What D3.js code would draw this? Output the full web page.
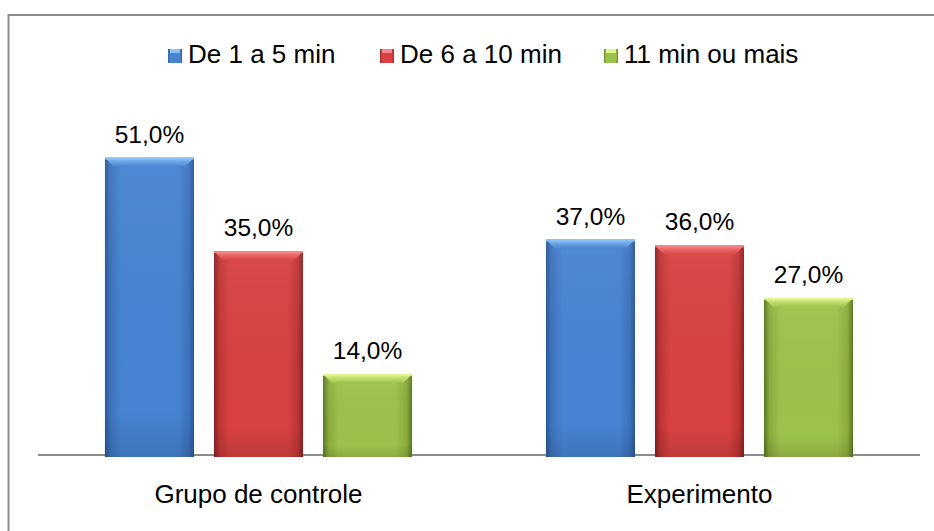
<!DOCTYPE html>
<html><head><meta charset="utf-8">
<script src="https://cdn.jsdelivr.net/npm/d3@7/dist/d3.min.js"></script>
<style>body{margin:0;background:#fff}svg{display:block}text{font-family:"Liberation Sans",Arial,sans-serif;fill:#000}</style>
</head><body>
<script>
const categories = ["Grupo de controle", "Experimento"];
const seriesNames = ["De 1 a 5 min", "De 6 a 10 min", "11 min ou mais"];
const values1a5 = [51.0, 37.0];
const values6a10 = [35.0, 36.0];
const values11 = [14.0, 27.0];
const seriesValues = [values1a5, values6a10, values11];

const palette = [
  {main:"#4784d2", light:"#8cc2f4", dark:"#2a5894", mid:"#3d73bd"},
  {main:"#d94242", light:"#f88686", dark:"#8a2121", mid:"#c03535"},
  {main:"#9dc24b", light:"#e0f68e", dark:"#587720", mid:"#88aa3c"}
];

const W = 934, H = 531;
const svg = d3.select("body").append("svg").attr("width", W).attr("height", H);

// chart border
svg.append("rect").attr("x", 8.5).attr("y", 15).attr("width", W + 20).attr("height", H + 20)
  .attr("fill", "none").attr("stroke", "#8c8c8c").attr("stroke-width", 2);

const x0 = d3.scaleBand().domain(categories).range([38, 920]);
const x1 = d3.scaleBand().domain(seriesNames).range([0, x0.bandwidth()]).paddingInner(0.183).paddingOuter(0.614);
const y = d3.scaleLinear().domain([0, 60]).range([456, 105]);

const defs = svg.append("defs");
palette.forEach((p, i) => {
  const g = defs.append("linearGradient").attr("id", "hg" + i).attr("x1", "0").attr("x2", "1").attr("y1", "0").attr("y2", "0");
  g.append("stop").attr("offset", "0").attr("stop-color", p.dark);
  g.append("stop").attr("offset", "0.06").attr("stop-color", p.mid);
  g.append("stop").attr("offset", "0.18").attr("stop-color", p.main);
  g.append("stop").attr("offset", "0.82").attr("stop-color", p.main);
  g.append("stop").attr("offset", "0.94").attr("stop-color", p.mid);
  g.append("stop").attr("offset", "1").attr("stop-color", p.dark);
  const t = defs.append("linearGradient").attr("id", "tg" + i).attr("x1", "0").attr("x2", "0").attr("y1", "0").attr("y2", "1");
  t.append("stop").attr("offset", "0").attr("stop-color", p.light);
  t.append("stop").attr("offset", "1").attr("stop-color", p.main);
  const v = defs.append("linearGradient").attr("id", "vg" + i).attr("x1", "0").attr("x2", "0").attr("y1", "0").attr("y2", "1");
  v.append("stop").attr("offset", "0").attr("stop-color", "#fff").attr("stop-opacity", 0.05);
  v.append("stop").attr("offset", "0.85").attr("stop-color", "#000").attr("stop-opacity", 0.0);
  v.append("stop").attr("offset", "1").attr("stop-color", "#000").attr("stop-opacity", 0.12);
});

// axis line
svg.append("line").attr("x1", x0.range()[0]).attr("x2", x0.range()[1])
  .attr("y1", y(0) - 1).attr("y2", y(0) - 1).attr("stroke", "#8c8c8c").attr("stroke-width", 2);

const bars = [];
categories.forEach((c, ci) => {
  seriesNames.forEach((s, si) => {
    bars.push({c, s, si, v: seriesValues[si][ci]});
  });
});

const g = svg.append("g");
bars.forEach(b => {
  const bx = x0(b.c) + x1(b.s), bw = x1.bandwidth();
  const by = y(b.v), bh = y(0) + 1 - by;
  const gg = g.append("g");
  gg.append("rect").attr("x", bx).attr("y", by).attr("width", bw).attr("height", bh).attr("fill", `url(#hg${b.si})`);
  gg.append("rect").attr("x", bx).attr("y", by).attr("width", bw).attr("height", bh).attr("fill", `url(#vg${b.si})`);
  const bev = 9;
  gg.append("polygon")
    .attr("points", [[bx, by], [bx + bw, by], [bx + bw - bev, by + bev], [bx + bev, by + bev]].map(p => p.join(",")).join(" "))
    .attr("fill", `url(#tg${b.si})`);
  gg.append("rect").attr("x", bx).attr("y", by).attr("width", bw).attr("height", 2).attr("fill", palette[b.si].light).attr("opacity", 0.8);
  gg.append("text").attr("x", bx + bw / 2).attr("y", by - 15).attr("text-anchor", "middle")
    .attr("font-size", 24.5).text(d3.format(".1f")(b.v).replace(".", ",") + "%");
});

// category labels
categories.forEach(c => {
  svg.append("text").attr("x", x0(c) + x0.bandwidth() / 2).attr("y", 503).attr("text-anchor", "middle")
    .attr("font-size", 26).text(c);
});

// legend
const legendX = [168, 380, 604];
seriesNames.forEach((s, i) => {
  const lg = svg.append("g").attr("transform", `translate(${legendX[i]},0)`);
  lg.append("rect").attr("x", 0).attr("y", 49).attr("width", 14).attr("height", 14).attr("fill", `url(#hg${i})`);
  lg.append("rect").attr("x", 2).attr("y", 49).attr("width", 10).attr("height", 4).attr("fill", palette[i].light);
  lg.append("text").attr("x", 20).attr("y", 63).attr("font-size", 26).text(s);
});
</script>
</body></html>
